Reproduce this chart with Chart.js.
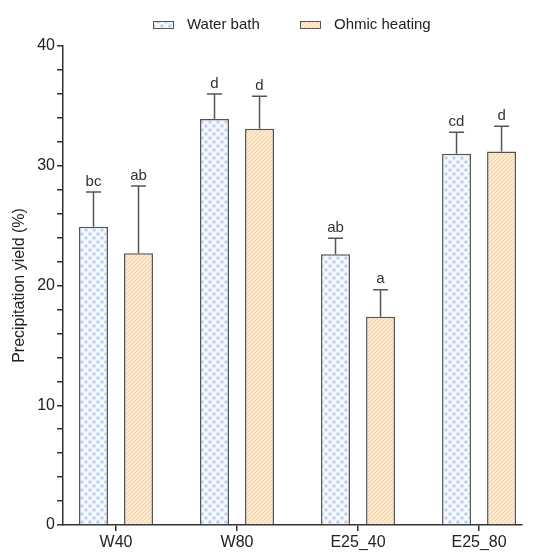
<!DOCTYPE html>
<html>
<head>
<meta charset="utf-8">
<script src="https://cdn.jsdelivr.net/npm/chart.js@4.4.1/dist/chart.umd.min.js"></script>
<style>
  html, body { margin: 0; padding: 0; background: #fff; }
  #wrap { width: 534px; height: 554px; }
</style>
</head>
<body>
<div id="wrap"><canvas id="chartYield"></canvas></div>
<script>
const categories = ['W40', 'W80', 'E25_40', 'E25_80'];
const waterBath = [24.9, 33.9, 22.6, 31.0];
const waterBathSd = [2.9, 2.1, 1.35, 1.8];
const waterBathLetters = ['bc', 'd', 'ab', 'cd'];
const ohmic = [22.7, 33.1, 17.4, 31.2];
const ohmicSd = [5.6, 2.7, 2.25, 2.1];
const ohmicLetters = ['ab', 'd', 'a', 'd'];
const yTicks = [0, 10, 20, 30, 40];

const FONT = 'Liberation Sans, Arial, sans-serif';

// dotted fill for the water bath bars
function dotPattern() {
  const c = document.createElement('canvas');
  c.width = 8; c.height = 8;
  const g = c.getContext('2d');
  g.fillStyle = '#f5f8fe';
  g.fillRect(0, 0, 8, 8);
  g.fillStyle = '#c2d4ef';
  [[2, 2], [6, 6]].forEach(([x, y]) => {
    g.beginPath();
    g.moveTo(x, y - 2.2); g.lineTo(x + 2.2, y); g.lineTo(x, y + 2.2); g.lineTo(x - 2.2, y);
    g.closePath(); g.fill();
  });
  return g.createPattern(c, 'repeat');
}

// hatched fill for the ohmic heating bars
function hatchPattern() {
  const c = document.createElement('canvas');
  c.width = 4; c.height = 4;
  const g = c.getContext('2d');
  g.fillStyle = '#fde8d0';
  g.fillRect(0, 0, 4, 4);
  g.strokeStyle = '#f6d1a6';
  g.lineWidth = 1;
  g.beginPath();
  g.moveTo(0, 4); g.lineTo(4, 0);
  g.moveTo(-1, 1); g.lineTo(1, -1);
  g.moveTo(3, 5); g.lineTo(5, 3);
  g.stroke();
  return g.createPattern(c, 'repeat');
}

// legend drawn above the plot, two flat boxes with their labels
const topLegend = {
  id: 'topLegend',
  afterDraw(chart) {
    const ctx = chart.ctx;
    const items = [[153, 'Water bath'], [300, 'Ohmic heating']];
    ctx.save();
    chart.data.datasets.forEach((ds, i) => {
      const x = items[i][0];
      ctx.fillStyle = ds.backgroundColor;
      ctx.fillRect(x, 21, 21, 8);
      ctx.strokeStyle = '#555';
      ctx.lineWidth = 1;
      ctx.strokeRect(x + 0.5, 21.5, 20, 7);
      ctx.fillStyle = '#222';
      ctx.font = '15px ' + FONT;
      ctx.textBaseline = 'middle';
      ctx.fillText(ds.label, x + 34, 25);
    });
    ctx.restore();
  }
};

const errorBars = {
  id: 'errorBars',
  afterDatasetsDraw(chart) {
    const ctx = chart.ctx;
    const y = chart.scales.y;
    chart.data.datasets.forEach((ds, di) => {
      const meta = chart.getDatasetMeta(di);
      meta.data.forEach((bar, i) => {
        const top = y.getPixelForValue(ds.data[i].y + ds.sd[i]);
        ctx.save();
        ctx.strokeStyle = '#555';
        ctx.lineWidth = 1.5;
        ctx.beginPath();
        ctx.moveTo(bar.x, bar.y);
        ctx.lineTo(bar.x, top);
        ctx.moveTo(bar.x - 7.5, top);
        ctx.lineTo(bar.x + 7.5, top);
        ctx.stroke();
        ctx.fillStyle = '#333';
        ctx.font = '15px ' + FONT;
        ctx.textAlign = 'center';
        ctx.textBaseline = 'bottom';
        ctx.fillText(ds.letters[i], bar.x, top - 3);
        ctx.restore();
      });
    });
  }
};

const ctx = document.getElementById('chartYield').getContext('2d');
new Chart(ctx, {
  type: 'bar',
  data: {
    datasets: [{
      label: 'Water bath',
      data: waterBath.map((v, i) => ({ x: i, y: v })),
      sd: waterBathSd,
      letters: waterBathLetters,
      backgroundColor: dotPattern(),
      borderColor: '#555',
      borderWidth: 1.5
    }, {
      label: 'Ohmic heating',
      data: ohmic.map((v, i) => ({ x: i, y: v })),
      sd: ohmicSd,
      letters: ohmicLetters,
      backgroundColor: hatchPattern(),
      borderColor: '#555',
      borderWidth: 1.5
    }]
  },
  options: {
    responsive: true,
    maintainAspectRatio: false,
    animation: false,
    categoryPercentage: 0.744,
    barPercentage: 0.644,
    layout: { padding: { left: 0, right: 12, top: 46, bottom: 0 } },
    plugins: {
      legend: { display: false },
      tooltip: { enabled: false }
    },
    scales: {
      x: {
        type: 'linear',
        offset: false,
        min: -0.438,
        max: 3.355,
        afterBuildTicks: s => { s.ticks = categories.map((c, i) => ({ value: i })); },
        afterFit: s => { s.height = 29; },
        ticks: {
          callback: v => categories[v],
          color: '#222',
          padding: 2,
          maxRotation: 0,
          autoSkip: false,
          font: { family: FONT, size: 16 }
        },
        grid: { offset: false, drawOnChartArea: false, drawTicks: true, tickLength: 6, color: '#333', lineWidth: 1.5 },
        border: { display: true, color: '#333', width: 1.5 }
      },
      y: {
        min: 0,
        max: 40,
        afterBuildTicks: s => {
          const t = [];
          for (let v = 0; v <= 40; v += 2) t.push({ value: v });
          s.ticks = t;
        },
        afterFit: s => { s.width = 63; },
        ticks: {
          callback: v => yTicks.includes(v) ? v : '',
          color: '#222',
          padding: 2,
          autoSkip: false,
          font: { family: FONT, size: 16 }
        },
        grid: { drawOnChartArea: false, drawTicks: true, tickLength: 6, color: '#333', lineWidth: 1.5 },
        border: { display: true, color: '#333', width: 1.5 },
        title: {
          display: true,
          text: 'Precipitation yield (%)',
          color: '#222',
          padding: { top: 10, bottom: 4 },
          font: { family: FONT, size: 16 }
        }
      }
    }
  },
  plugins: [errorBars, topLegend]
});
</script>
</body>
</html>
